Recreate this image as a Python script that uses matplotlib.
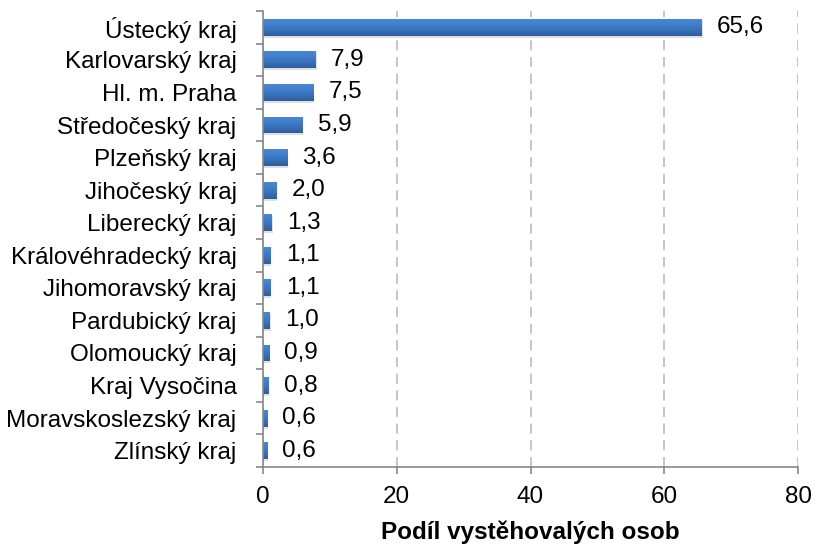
import matplotlib.pyplot as plt
import numpy as np

plt.rcParams['font.family'] = ['Liberation Sans', 'DejaVu Sans']

regions = ["Ústecký kraj", "Karlovarský kraj", "Hl. m. Praha", "Středočeský kraj",
           "Plzeňský kraj", "Jihočeský kraj", "Liberecký kraj", "Královéhradecký kraj",
           "Jihomoravský kraj", "Pardubický kraj", "Olomoucký kraj", "Kraj Vysočina",
           "Moravskoslezský kraj", "Zlínský kraj"]
shares = [65.6, 7.9, 7.5, 5.9, 3.6, 2.0, 1.3, 1.1, 1.1, 1.0, 0.9, 0.8, 0.6, 0.6]

fs = 17.5

fig = plt.figure(figsize=(8.16, 5.45), dpi=100)
ax = fig.add_axes([263 / 816, 1 - 467 / 545, 535 / 816, 456 / 545])

y = np.arange(len(regions))
bars = ax.barh(y, shares, height=0.52, color="#3B74BE", zorder=3)

# excel-ish vertical gradient on each bar, lighter on top
grad = np.linspace(0, 1, 64).reshape(-1, 1)
cmap = plt.matplotlib.colors.LinearSegmentedColormap.from_list(
    "bar", ["#4A88D4", "#3B78C6", "#2E5E9C"])
for b in bars:
    x0, y0 = b.get_x(), b.get_y()
    w, h = b.get_width(), b.get_height()
    im = ax.imshow(grad, cmap=cmap, aspect="auto", extent=(x0, x0 + w, y0 + h, y0),
                   origin="upper", zorder=4)
    im.set_clip_path(b)
    # small shadow
    ax.add_patch(plt.Rectangle((x0 + 0.15, y0 + 0.06), w, h, color="#000000",
                               alpha=0.12, zorder=2, lw=0))

for yi, v in zip(y, shares):
    ax.text(v + 2.3, yi, f"{v:.1f}".replace(".", ","), va="center", ha="left",
            fontsize=fs)

ax.set_xlim(0, 80)
ax.set_ylim(len(regions) - 0.5, -0.5)
ax.set_xticks([0, 20, 40, 60, 80])
ax.set_yticks(y)
ax.set_yticklabels(regions, fontsize=fs)
ax.tick_params(axis="y", length=0, pad=19)
ax.set_yticks(np.arange(len(regions) + 1) - 0.5, minor=True)
ax.tick_params(axis="y", which="minor", length=5, color="#888888", width=1.2)
ax.tick_params(axis="x", labelsize=fs, length=5, color="#888888", width=1.2, pad=9)

ax.grid(axis="x", color="#BBBBBB", linestyle=(0, (6, 4)), linewidth=1.2, zorder=0)
for s in ["top", "right"]:
    ax.spines[s].set_visible(False)
for s in ["left", "bottom"]:
    ax.spines[s].set_color("#888888")
    ax.spines[s].set_linewidth(1.2)
ax.spines["left"].set_zorder(5)

ax.set_xlabel("Podíl vystěhovalých osob", fontsize=fs, fontweight="bold", labelpad=9)

fig.savefig("out.png", dpi=100)
